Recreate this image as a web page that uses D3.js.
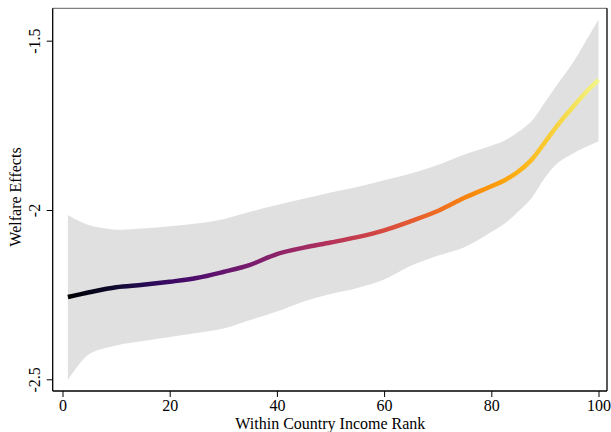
<!DOCTYPE html>
<html>
<head>
<meta charset="utf-8">
<script src="https://cdn.jsdelivr.net/npm/d3@7"></script>
<style>
  body { margin: 0; background: #fff; }
  text { font-family: "Liberation Serif", "Times New Roman", serif; }
</style>
</head>
<body>
<div id="chart"></div>
<script>
// income rank grid
const rank = [1, 3, 5, 10, 15, 20, 25, 30, 35, 40, 45, 50, 55, 60, 65, 70, 75, 80,
  82.5, 85, 87.5, 90, 92.5, 95, 97.5, 100];
// fitted welfare effect
const fit = [-2.257, -2.250, -2.243, -2.228, -2.221, -2.212, -2.201, -2.183, -2.162, -2.130, -2.111,
  -2.096, -2.080, -2.060, -2.033, -2.003, -1.964, -1.930,
  -1.912, -1.887, -1.852, -1.800, -1.747, -1.700, -1.655, -1.616];
// confidence band
const upper = [-2.015, -2.032, -2.045, -2.058, -2.055, -2.048, -2.040, -2.027, -2.005, -1.985, -1.967,
  -1.948, -1.932, -1.912, -1.892, -1.867, -1.836, -1.810,
  -1.795, -1.770, -1.738, -1.682, -1.625, -1.570, -1.505, -1.438];
const lower = [-2.502, -2.458, -2.425, -2.400, -2.387, -2.375, -2.363, -2.350, -2.325, -2.300, -2.270,
  -2.248, -2.230, -2.205, -2.165, -2.135, -2.110, -2.065,
  -2.040, -2.005, -1.965, -1.905, -1.860, -1.835, -1.815, -1.798];

const xTicks = [0, 20, 40, 60, 80, 100];
const yTicks = [-2.5, -2, -1.5];

const width = 611;
const height = 432;

// plot frame
const frameL = 52.7, frameR = 607, frameT = 8.3, frameB = 391;

const x = d3.scaleLinear().domain([0, 100]).range([62.5, 598.5]);
const y = d3.scaleLinear().domain([-2.5, -1.5]).range([379.3, 40.7]);

const data = rank.map((r, i) => ({ r: r, fit: fit[i], lo: lower[i], hi: upper[i] }));

const svg = d3.select('#chart')
  .append('svg')
  .attr('width', width)
  .attr('height', height);

/* confidence band */
svg.append('path')
  .datum(data)
  .attr('fill', '#e0e0e0')
  .attr('d', d3.area()
    .curve(d3.curveCatmullRom)
    .x(d => x(d.r))
    .y0(d => y(d.lo))
    .y1(d => y(d.hi)));

/* line coloured with inferno */
const grad = svg.append('defs')
  .append('linearGradient')
  .attr('id', 'inferno')
  .attr('gradientUnits', 'userSpaceOnUse')
  .attr('x1', x(1)).attr('x2', x(100))
  .attr('y1', 0).attr('y2', 0);

d3.range(0, 1.0001, 0.05).forEach(t => {
  grad.append('stop')
    .attr('offset', t)
    .attr('stop-color', d3.interpolateInferno(t * 0.97));
});

svg.append('path')
  .datum(data)
  .attr('fill', 'none')
  .attr('stroke', 'url(#inferno)')
  .attr('stroke-width', 4.5)
  .attr('d', d3.line()
    .curve(d3.curveCatmullRom)
    .x(d => x(d.r))
    .y(d => y(d.fit)));

/* frame: top grey, right black */
svg.append('line')
  .attr('x1', frameL).attr('x2', frameR)
  .attr('y1', frameT).attr('y2', frameT)
  .attr('stroke', '#808080')
  .attr('stroke-width', 1.3);
svg.append('line')
  .attr('x1', frameR).attr('x2', frameR)
  .attr('y1', frameT).attr('y2', frameB)
  .attr('stroke', '#000')
  .attr('stroke-width', 1.3);

/* axes */
const xAxis = svg.append('g')
  .attr('transform', `translate(0,${frameB})`)
  .call(d3.axisBottom(x).tickValues(xTicks).tickSize(6).tickPadding(3));
xAxis.select('.domain').attr('d', `M${frameL},0H${frameR}`).attr('stroke-width', 1.3);
xAxis.selectAll('text').attr('font-size', 16).attr('fill', '#000')
  .style('font-family', '"Liberation Serif", serif');

const yAxis = svg.append('g')
  .attr('transform', `translate(${frameL},0)`)
  .call(d3.axisLeft(y).tickValues(yTicks).tickSize(6).tickFormat(d => String(d)));
yAxis.select('.domain').attr('d', `M0,${frameT}V${frameB}`).attr('stroke-width', 1.3);
yAxis.selectAll('text')
  .attr('font-size', 16)
  .attr('fill', '#000')
  .style('font-family', '"Liberation Serif", serif')
  .attr('text-anchor', 'middle')
  .attr('x', 0).attr('dy', 0)
  .attr('transform', 'translate(-13,0) rotate(-90)');

/* titles */
svg.append('text')
  .attr('x', (frameL + frameR) / 2 + 0.5)
  .attr('y', 429)
  .attr('text-anchor', 'middle')
  .attr('font-size', 16)
  .text('Within Country Income Rank');

svg.append('text')
  .attr('transform', `translate(21,197) rotate(-90)`)
  .attr('text-anchor', 'middle')
  .attr('font-size', 16)
  .text('Welfare Effects');
</script>
</body>
</html>
